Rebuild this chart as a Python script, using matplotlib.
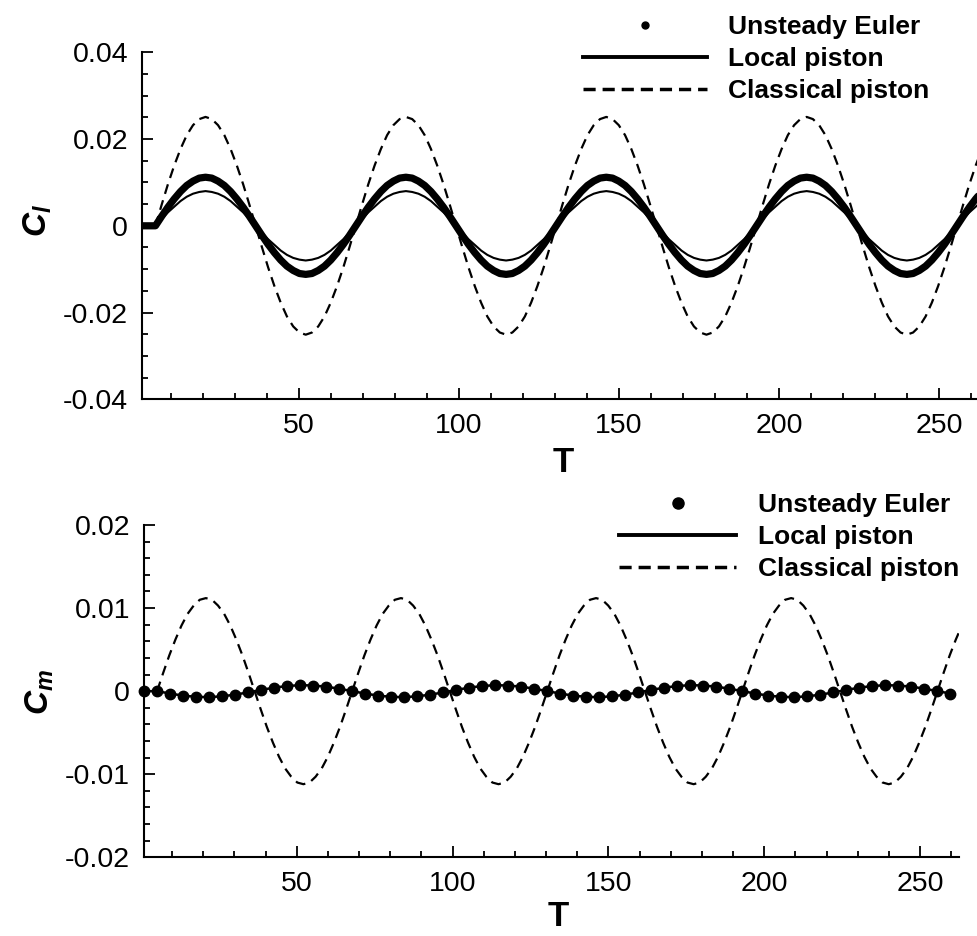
import numpy as np
import matplotlib.pyplot as plt
from matplotlib.lines import Line2D
from matplotlib.ticker import MultipleLocator

plt.rcParams['font.family'] = ['Liberation Sans', 'DejaVu Sans']
plt.rcParams['mathtext.fontset'] = 'custom'
plt.rcParams['mathtext.it'] = 'Liberation Sans:italic:bold'
plt.rcParams['mathtext.rm'] = 'Liberation Sans'

nan = np.nan

# ---- top panel: lift coefficient, sampled in T
t_top = [1.29, 3.24, 5.20,
         7.16, 9.11, 11.07, 13.03, 14.98, 16.94, 18.89, 20.85,
         22.81, 24.76, 26.72, 28.68, 30.63, 32.59, 34.54, 36.50,
         38.46, 40.41, 42.37, 44.33, 46.28, 48.24, 50.19, 52.15,
         54.11, 56.06, 58.02, 59.98, 61.93, 63.89, 65.84, 67.80,
         69.76, 71.71, 73.67, 75.63, 77.58, 79.54, 81.49, 83.45,
         85.41, 87.36, 89.32, 91.28, 93.23, 95.19, 97.14, 99.10,
         101.06, 103.01, 104.97, 106.93, 108.88, 110.84, 112.79, 114.75,
         116.71, 118.66, 120.62, 122.58, 124.53, 126.49, 128.44, 130.40,
         132.36, 134.31, 136.27, 138.23, 140.18, 142.14, 144.09, 146.05,
         148.01, 149.96, 151.92, 153.88, 155.83, 157.79, 159.74, 161.70,
         163.66, 165.61, 167.57, 169.53, 171.48, 173.44, 175.39, 177.35,
         179.31, 181.26, 183.22, 185.18, 187.13, 189.09, 191.04, 193.00,
         194.96, 196.91, 198.87, 200.83, 202.78, 204.74, 206.69, 208.65,
         210.61, 212.56, 214.52, 216.48, 218.43, 220.39, 222.34, 224.30,
         226.26, 228.21, 230.17, 232.13, 234.08, 236.04, 237.99, 239.95,
         241.91, 243.86, 245.82, 247.78, 249.73, 251.69, 253.64, 255.60,
         257.56, 259.51, 261.47, 263.43]

cl_euler = [0.0, 0.0, 0.0,
            0.0022, 0.0043, 0.0062, 0.0079, 0.0093, 0.0103, 0.0110, 0.0112,
            0.0110, 0.0103, 0.0093, 0.0079, 0.0062, 0.0043, 0.0022, 0.0,
            -0.0022, -0.0043, -0.0062, -0.0079, -0.0093, -0.0103, -0.0110, -0.0112,
            -0.0110, -0.0103, -0.0093, -0.0079, -0.0062, -0.0043, -0.0022, 0.0,
            0.0022, 0.0043, 0.0062, 0.0079, 0.0093, 0.0103, 0.0110, 0.0112,
            0.0110, 0.0103, 0.0093, 0.0079, 0.0062, 0.0043, 0.0022, 0.0,
            -0.0022, -0.0043, -0.0062, -0.0079, -0.0093, -0.0103, -0.0110, -0.0112,
            -0.0110, -0.0103, -0.0093, -0.0079, -0.0062, -0.0043, -0.0022, 0.0,
            0.0022, 0.0043, 0.0062, 0.0079, 0.0093, 0.0103, 0.0110, 0.0112,
            0.0110, 0.0103, 0.0093, 0.0079, 0.0062, 0.0043, 0.0022, 0.0,
            -0.0022, -0.0043, -0.0062, -0.0079, -0.0093, -0.0103, -0.0110, -0.0112,
            -0.0110, -0.0103, -0.0093, -0.0079, -0.0062, -0.0043, -0.0022, 0.0,
            0.0022, 0.0043, 0.0062, 0.0079, 0.0093, 0.0103, 0.0110, 0.0112,
            0.0110, 0.0103, 0.0093, 0.0079, 0.0062, 0.0043, 0.0022, 0.0,
            -0.0022, -0.0043, -0.0062, -0.0079, -0.0093, -0.0103, -0.0110, -0.0112,
            -0.0110, -0.0103, -0.0093, -0.0079, -0.0062, -0.0043, -0.0022, 0.0,
            0.0022, 0.0043, 0.0062, 0.0079]

cl_local = [0.0, 0.0, 0.0,
            0.0016, 0.0031, 0.0044, 0.0057, 0.0067, 0.0074, 0.0078, 0.0080,
            0.0078, 0.0074, 0.0067, 0.0057, 0.0044, 0.0031, 0.0016, 0.0,
            -0.0016, -0.0031, -0.0044, -0.0057, -0.0067, -0.0074, -0.0078, -0.0080,
            -0.0078, -0.0074, -0.0067, -0.0057, -0.0044, -0.0031, -0.0016, 0.0,
            0.0016, 0.0031, 0.0044, 0.0057, 0.0067, 0.0074, 0.0078, 0.0080,
            0.0078, 0.0074, 0.0067, 0.0057, 0.0044, 0.0031, 0.0016, 0.0,
            -0.0016, -0.0031, -0.0044, -0.0057, -0.0067, -0.0074, -0.0078, -0.0080,
            -0.0078, -0.0074, -0.0067, -0.0057, -0.0044, -0.0031, -0.0016, 0.0,
            0.0016, 0.0031, 0.0044, 0.0057, 0.0067, 0.0074, 0.0078, 0.0080,
            0.0078, 0.0074, 0.0067, 0.0057, 0.0044, 0.0031, 0.0016, 0.0,
            -0.0016, -0.0031, -0.0044, -0.0057, -0.0067, -0.0074, -0.0078, -0.0080,
            -0.0078, -0.0074, -0.0067, -0.0057, -0.0044, -0.0031, -0.0016, 0.0,
            0.0016, 0.0031, 0.0044, 0.0057, 0.0067, 0.0074, 0.0078, 0.0080,
            0.0078, 0.0074, 0.0067, 0.0057, 0.0044, 0.0031, 0.0016, 0.0,
            -0.0016, -0.0031, -0.0044, -0.0057, -0.0067, -0.0074, -0.0078, -0.0080,
            -0.0078, -0.0074, -0.0067, -0.0057, -0.0044, -0.0031, -0.0016, 0.0,
            0.0016, 0.0031, 0.0044, 0.0057]

cl_classical = [nan, nan, 0.0,
                0.0049, 0.0096, 0.0139, 0.0177, 0.0209, 0.0232, 0.0246, 0.0251,
                0.0246, 0.0232, 0.0209, 0.0177, 0.0139, 0.0096, 0.0049, 0.0,
                -0.0049, -0.0096, -0.0139, -0.0177, -0.0209, -0.0232, -0.0246, -0.0251,
                -0.0246, -0.0232, -0.0209, -0.0177, -0.0139, -0.0096, -0.0049, 0.0,
                0.0049, 0.0096, 0.0139, 0.0177, 0.0209, 0.0232, 0.0246, 0.0251,
                0.0246, 0.0232, 0.0209, 0.0177, 0.0139, 0.0096, 0.0049, 0.0,
                -0.0049, -0.0096, -0.0139, -0.0177, -0.0209, -0.0232, -0.0246, -0.0251,
                -0.0246, -0.0232, -0.0209, -0.0177, -0.0139, -0.0096, -0.0049, 0.0,
                0.0049, 0.0096, 0.0139, 0.0177, 0.0209, 0.0232, 0.0246, 0.0251,
                0.0246, 0.0232, 0.0209, 0.0177, 0.0139, 0.0096, 0.0049, 0.0,
                -0.0049, -0.0096, -0.0139, -0.0177, -0.0209, -0.0232, -0.0246, -0.0251,
                -0.0246, -0.0232, -0.0209, -0.0177, -0.0139, -0.0096, -0.0049, 0.0,
                0.0049, 0.0096, 0.0139, 0.0177, 0.0209, 0.0232, 0.0246, 0.0251,
                0.0246, 0.0232, 0.0209, 0.0177, 0.0139, 0.0096, 0.0049, 0.0,
                -0.0049, -0.0096, -0.0139, -0.0177, -0.0209, -0.0232, -0.0246, -0.0251,
                -0.0246, -0.0232, -0.0209, -0.0177, -0.0139, -0.0096, -0.0049, 0.0,
                0.0049, 0.0096, 0.0139, 0.0177]

# ---- bottom panel: moment coefficient
cm_classical = [nan, nan, 0.0,
                0.0022, 0.0043, 0.0062, 0.0079, 0.0093, 0.0103, 0.0110, 0.0112,
                0.0110, 0.0103, 0.0093, 0.0079, 0.0062, 0.0043, 0.0022, 0.0,
                -0.0022, -0.0043, -0.0062, -0.0079, -0.0093, -0.0103, -0.0110, -0.0112,
                -0.0110, -0.0103, -0.0093, -0.0079, -0.0062, -0.0043, -0.0022, 0.0,
                0.0022, 0.0043, 0.0062, 0.0079, 0.0093, 0.0103, 0.0110, 0.0112,
                0.0110, 0.0103, 0.0093, 0.0079, 0.0062, 0.0043, 0.0022, 0.0,
                -0.0022, -0.0043, -0.0062, -0.0079, -0.0093, -0.0103, -0.0110, -0.0112,
                -0.0110, -0.0103, -0.0093, -0.0079, -0.0062, -0.0043, -0.0022, 0.0,
                0.0022, 0.0043, 0.0062, 0.0079, 0.0093, 0.0103, 0.0110, 0.0112,
                0.0110, 0.0103, 0.0093, 0.0079, 0.0062, 0.0043, 0.0022, 0.0,
                -0.0022, -0.0043, -0.0062, -0.0079, -0.0093, -0.0103, -0.0110, -0.0112,
                -0.0110, -0.0103, -0.0093, -0.0079, -0.0062, -0.0043, -0.0022, 0.0,
                0.0022, 0.0043, 0.0062, 0.0079, 0.0093, 0.0103, 0.0110, 0.0112,
                0.0110, 0.0103, 0.0093, 0.0079, 0.0062, 0.0043, 0.0022, 0.0,
                -0.0022, -0.0043, -0.0062, -0.0079, -0.0093, -0.0103, -0.0110, -0.0112,
                -0.0110, -0.0103, -0.0093, -0.0079, -0.0062, -0.0043, -0.0022, 0.0,
                0.0022, 0.0043, 0.0062, 0.0079]

t_dots = [1.03, 5.20,
          9.37, 13.55, 17.72, 21.89, 26.07, 30.24, 34.41, 38.59,
          42.76, 46.93, 51.11, 55.28, 59.45, 63.63, 67.80,
          71.97, 76.15, 80.32, 84.49, 88.67, 92.84, 97.01, 101.19,
          105.36, 109.53, 113.71, 117.88, 122.05, 126.23, 130.40,
          134.57, 138.75, 142.92, 147.09, 151.27, 155.44, 159.61, 163.79,
          167.96, 172.13, 176.31, 180.48, 184.65, 188.83, 193.00,
          197.17, 201.35, 205.52, 209.69, 213.87, 218.04, 222.21, 226.39,
          230.56, 234.73, 238.91, 243.08, 247.25, 251.43, 255.60,
          259.77]

cm_euler = [0.0, 0.0,
            -0.00029, -0.00054, -0.00068, -0.00072, -0.00062, -0.00042, -0.00015, 0.00015,
            0.00042, 0.00062, 0.00072, 0.00068, 0.00054, 0.00029, 0.0,
            -0.00029, -0.00054, -0.00068, -0.00072, -0.00062, -0.00042, -0.00015, 0.00015,
            0.00042, 0.00062, 0.00072, 0.00068, 0.00054, 0.00029, 0.0,
            -0.00029, -0.00054, -0.00068, -0.00072, -0.00062, -0.00042, -0.00015, 0.00015,
            0.00042, 0.00062, 0.00072, 0.00068, 0.00054, 0.00029, 0.0,
            -0.00029, -0.00054, -0.00068, -0.00072, -0.00062, -0.00042, -0.00015, 0.00015,
            0.00042, 0.00062, 0.00072, 0.00068, 0.00054, 0.00029, 0.0,
            -0.00029]
# local piston sits right on top of the Euler dots in Cm
cm_local = cm_euler

legend_labels = ['Unsteady Euler', 'Local piston', 'Classical piston']
xticks = [50, 100, 150, 200, 250]
cl_ticks = [-0.04, -0.02, 0.0, 0.02, 0.04]
cl_ticklabels = ['-0.04', '-0.02', '0', '0.02', '0.04']
cm_ticks = [-0.02, -0.01, 0.0, 0.01, 0.02]
cm_ticklabels = ['-0.02', '-0.01', '0', '0.01', '0.02']

W, H = 977, 936
dash = (0, (4.5, 3.0))


def style_axes(ax, yticks, ylabels, yminor):
    for s in ['top', 'right']:
        ax.spines[s].set_visible(False)
    for s in ['left', 'bottom']:
        ax.spines[s].set_linewidth(1.5)
    ax.set_xlim(1, 262.5)
    ax.set_xticks(xticks)
    ax.set_xticklabels([str(x) for x in xticks])
    ax.xaxis.set_minor_locator(MultipleLocator(10))
    ax.set_ylim(yticks[0], yticks[-1])
    ax.set_yticks(yticks)
    ax.set_yticklabels(ylabels)
    ax.yaxis.set_minor_locator(MultipleLocator(yminor))
    ax.tick_params(which='both', direction='in', width=1.3)
    ax.tick_params(which='major', length=8, labelsize=20.5)
    ax.tick_params(which='minor', length=4.5)
    ax.tick_params(axis='x', pad=10)
    ax.tick_params(axis='y', pad=10)


fig = plt.figure(figsize=(W / 100, H / 100), dpi=100)

# top axes: left=142px, bottom axis line at y=399px, top at 52px
ax1 = fig.add_axes([142 / W, 1 - 399.3 / H, 837 / W, 347 / H])
ax1.plot(t_top, cl_classical, color='k', lw=1.6, ls=dash)
ax1.plot(t_top, cl_euler, color='k', lw=5.2, solid_capstyle='round')
ax1.plot(t_top, cl_local, color='k', lw=1.5)
style_axes(ax1, cl_ticks, cl_ticklabels, 0.005)
ax1.set_xlabel('T', fontsize=25, fontweight='bold')
ax1.xaxis.set_label_coords(0.503, -0.135)
ax1.text(-0.125, 0.514, r'$C_l$', transform=ax1.transAxes, rotation=90,
         ha='center', va='center', fontsize=24)

h1 = [Line2D([], [], ls='none', marker='o', ms=5, color='k'),
      Line2D([], [], color='k', lw=2.8),
      Line2D([], [], color='k', lw=2.5, ls=(0, (3.5, 2.0)))]
ax1.legend(h1, legend_labels, loc='upper left', bbox_to_anchor=(583 / W, 1 - 15 / H),
           bbox_transform=fig.transFigure, frameon=False,
           prop={'weight': 'bold', 'size': 19}, handlelength=4.7, handletextpad=0.8,
           labelspacing=0.3, borderpad=0, borderaxespad=0, numpoints=1)

# bottom axes: left=144px, bottom at 857px, top at 525px, right end 959px
ax2 = fig.add_axes([144 / W, 1 - 857.3 / H, 815 / W, 332.3 / H])
ax2.plot(t_top, cm_classical, color='k', lw=1.6, ls=dash)
ax2.plot(t_dots, cm_local, color='k', lw=1.8)
ax2.plot(t_dots, cm_euler, ls='none', marker='o', ms=7.5, color='k', clip_on=False, zorder=3)
style_axes(ax2, cm_ticks, cm_ticklabels, 0.002)
ax2.set_xlabel('T', fontsize=25, fontweight='bold')
ax2.xaxis.set_label_coords(0.508, -0.13)
ax2.text(-0.128, 0.497, r'$C_m$', transform=ax2.transAxes, rotation=90,
         ha='center', va='center', fontsize=24)

h2 = [Line2D([], [], ls='none', marker='o', ms=8, color='k'),
      Line2D([], [], color='k', lw=2.8),
      Line2D([], [], color='k', lw=2.5, ls=(0, (3.5, 2.0)))]
ax2.legend(h2, legend_labels, loc='upper left', bbox_to_anchor=(619 / W, 1 - 493 / H),
           bbox_transform=fig.transFigure, frameon=False,
           prop={'weight': 'bold', 'size': 19}, handlelength=4.45, handletextpad=0.8,
           labelspacing=0.3, borderpad=0, borderaxespad=0, numpoints=1)

fig.savefig('out.png', dpi=100)
